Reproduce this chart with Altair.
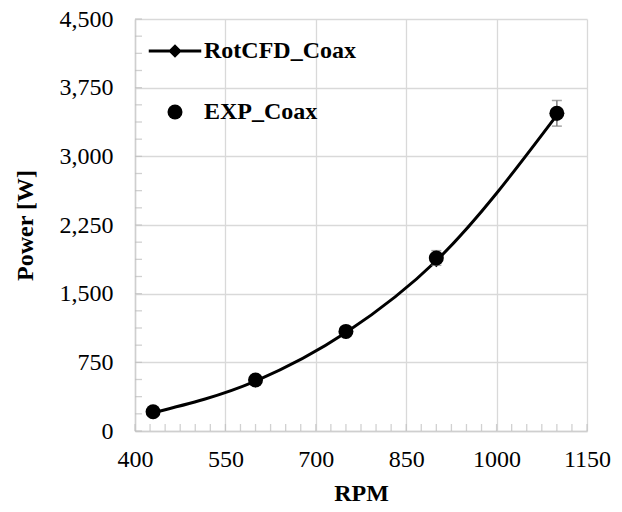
import altair as alt
import pandas as pd

# ---- data ----
rpm = [430, 600, 750, 900, 1100]
cfd_power = [200, 545, 1075, 1860, 3450]
exp_power = [210, 557, 1088, 1890, 3470]
exp_err = [15, 25, 40, 80, 140]
series = ["RotCFD_Coax", "EXP_Coax"]

x_ticks = [400, 550, 700, 850, 1000, 1150]
y_ticks = [0, 750, 1500, 2250, 3000, 3750, 4500]
x_minor = [v for v in range(400, 1151, 25)]
y_minor = [i * 187.5 for i in range(0, 25)]

FONT = "Liberation Serif"
GRID = "#d9d9d9"

cfd_df = pd.DataFrame({"rpm": rpm, "power": cfd_power, "series": series[0]})
exp_df = pd.DataFrame({
    "rpm": rpm,
    "power": exp_power,
    "lo": [p - e for p, e in zip(exp_power, exp_err)],
    "hi": [p + e for p, e in zip(exp_power, exp_err)],
    "series": series[1],
})
leg_df = pd.DataFrame({"series": series})
# minor ticks sit on the axis lines (x = first x tick, power = first y tick)
xm_df = pd.DataFrame({"rpm": x_minor, "power": y_ticks[0]})
ym_df = pd.DataFrame({"rpm": x_ticks[0], "power": y_minor})

xscale = alt.Scale(domain=[400, 1150], nice=False, zero=False)
yscale = alt.Scale(domain=[0, 4500], nice=False, zero=False)

xaxis = alt.Axis(values=x_ticks, format=".0f", title="RPM", labelPadding=16,
                 titlePadding=10)
yaxis = alt.Axis(values=y_ticks, format=",.0f", title="Power [W]",
                 labelPadding=22, titlePadding=22)

X = alt.X("rpm:Q", scale=xscale, axis=xaxis)
Y = alt.Y("power:Q", scale=yscale, axis=yaxis)

cfd_line = alt.Chart(cfd_df).mark_line(
    interpolate="monotone", color="black", strokeWidth=3
).encode(x=X, y=Y)

x_minor_ticks = alt.Chart(xm_df).mark_tick(
    orient="vertical", size=7, thickness=1.3, color="#bdbdbd", yOffset=-3.5
).encode(x=X, y=Y)
y_minor_ticks = alt.Chart(ym_df).mark_tick(
    orient="horizontal", size=7, thickness=1.3, color="#bdbdbd", xOffset=3.5
).encode(x=X, y=Y)

cfd_pts = alt.Chart(cfd_df).mark_point(
    shape="diamond", filled=True, size=169, color="black", opacity=1
).encode(x=X, y=Y)

err_rule = alt.Chart(exp_df).mark_rule(color="#7f7f7f", strokeWidth=1.5).encode(
    x=X, y=alt.Y("lo:Q", scale=yscale, axis=yaxis), y2="hi:Q"
)
err_cap_lo = alt.Chart(exp_df).mark_tick(
    orient="horizontal", size=10, thickness=1.5, color="#7f7f7f"
).encode(x=X, y=alt.Y("lo:Q", scale=yscale, axis=yaxis))
err_cap_hi = alt.Chart(exp_df).mark_tick(
    orient="horizontal", size=10, thickness=1.5, color="#7f7f7f"
).encode(x=X, y=alt.Y("hi:Q", scale=yscale, axis=yaxis))

exp_pts = alt.Chart(exp_df).mark_point(
    shape="circle", filled=True, size=225, color="black", opacity=1
).encode(x=X, y=Y)

# legend symbol: a line with a diamond on it, and a circle
line_diamond = (
    "M-3.5,-0.2H3.5V0.2H-3.5Z"
    "M0,-0.9L0.9,0L0,0.9L-0.9,0Z"
)

legend_layer = alt.Chart(leg_df).mark_point(
    filled=True, size=225, opacity=0, color="black"
).encode(
    shape=alt.Shape(
        "series:N",
        scale=alt.Scale(domain=series, range=[line_diamond, "circle"]),
        sort=series,
        legend=alt.Legend(
            orient="none", legendX=28, legendY=20, title=None,
            labelFont=FONT, labelFontSize=24, labelFontWeight="bold",
            labelColor="black", labelOffset=17, rowPadding=37,
            symbolOpacity=1, symbolFillColor="black", symbolStrokeWidth=0,
            symbolSize=225,
        ),
    ),
)

chart = alt.layer(
    cfd_line, x_minor_ticks, y_minor_ticks, cfd_pts, err_rule, err_cap_lo,
    err_cap_hi, exp_pts, legend_layer,
).properties(
    width=452, height=412,
    background="white",
    autosize=alt.AutoSizeParams(type="none"),
    padding={"left": 135, "top": 19, "right": 35, "bottom": 81},
).configure_view(
    stroke=None
).configure_axis(
    grid=True, gridColor=GRID, gridWidth=1.3,
    domainColor="#cfcfcf", domainWidth=1.5, ticks=False,
    labelFont=FONT, labelFontSize=24, labelColor="black", labelFlush=False,
    titleFont=FONT, titleFontSize=24, titleFontWeight="bold", titleColor="black",
)

chart.save("out.html", embed_options={"renderer": "svg", "actions": False})
